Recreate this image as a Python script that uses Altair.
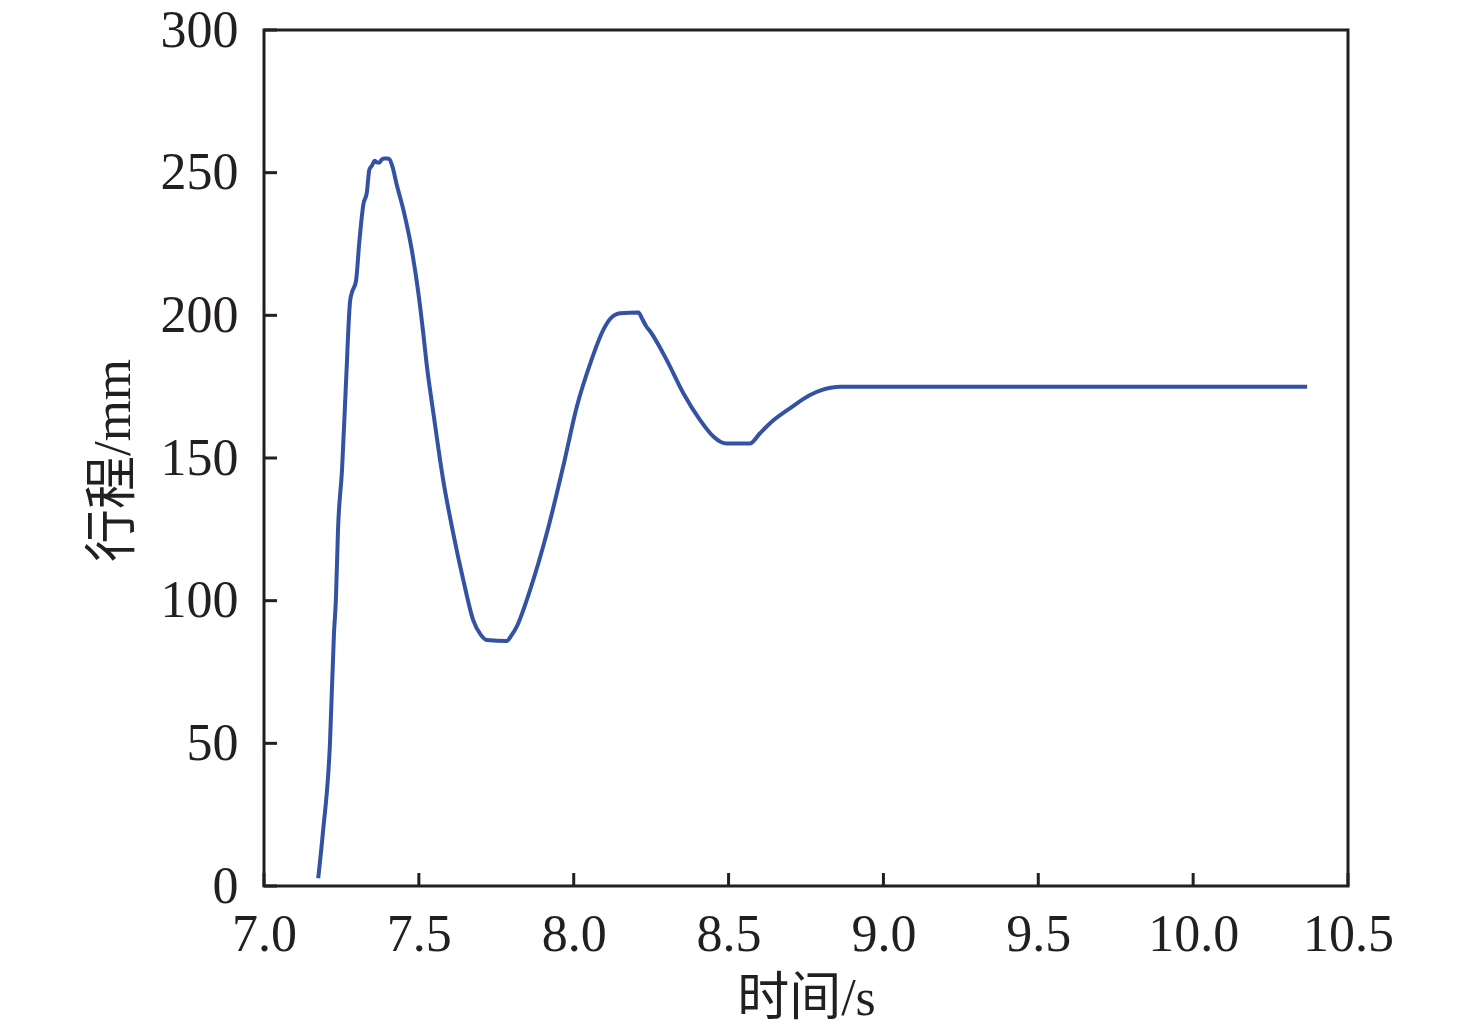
import altair as alt
import pandas as pd

# Time (s) and stroke (mm)
time_s = [7.175, 7.190, 7.213, 7.226, 7.232, 7.239, 7.252, 7.265, 7.278, 7.283,
          7.297, 7.308, 7.321, 7.332, 7.340, 7.348, 7.358, 7.365, 7.372, 7.380,
          7.387, 7.398, 7.405, 7.415, 7.428, 7.450, 7.477, 7.497, 7.514, 7.525,
          7.547, 7.579, 7.611, 7.644, 7.676, 7.700, 7.719, 7.784, 7.800, 7.816,
          7.859, 7.913, 7.966, 8.010, 8.053, 8.096, 8.120, 8.150, 8.209, 8.220,
          8.235, 8.246, 8.300, 8.354, 8.408, 8.451, 8.475, 8.494, 8.569, 8.600,
          8.634, 8.698, 8.763, 8.800, 8.830, 8.860, 9.000, 9.500, 10.000, 10.368]
stroke_mm = [2.7, 18.5, 50.0, 88.7, 100.0, 125.0, 146.0, 177.0, 205.0, 207.7,
             212.0, 226.0, 239.0, 243.0, 251.0, 252.4, 254.2, 253.6, 253.5, 254.6,
             255.0, 255.0, 254.7, 252.0, 246.0, 237.0, 223.0, 209.0, 194.0, 183.0,
             165.7, 142.0, 123.6, 107.0, 93.0, 88.0, 86.2, 85.9, 88.0, 90.9,
             103.7, 123.6, 147.0, 168.0, 183.0, 195.0, 199.0, 200.7, 201.0, 199.0,
             196.0, 194.5, 184.4, 172.7, 163.3, 157.5, 155.6, 155.1, 155.1, 158.5,
             162.2, 167.4, 172.1, 173.8, 174.6, 175.0, 175.0, 175.0, 175.0, 175.0]

x_ticks = [7.0, 7.5, 8.0, 8.5, 9.0, 9.5, 10.0, 10.5]
y_ticks = [0, 50, 100, 150, 200, 250, 300]

W, H = 1084, 856
FONT = "Liberation Serif, Noto Sans CJK SC"
INK = "#231F20"

df = pd.DataFrame({"t": time_s, "s": stroke_mm})
xt = pd.DataFrame({"v": x_ticks})
yt = pd.DataFrame({"v": y_ticks})

xscale = alt.Scale(domain=[7.0, 10.5], nice=False, zero=False)
yscale = alt.Scale(domain=[0, 300], nice=False)

line = alt.Chart(df).mark_line(color="#3352A3", strokeWidth=4,
                               interpolate="monotone").encode(
    x=alt.X("t:Q", scale=xscale,
            axis=alt.Axis(title="时间/s", values=x_ticks, format=".1f",
                          ticks=False, tickSize=0, domain=False, grid=False,
                          labelFont=FONT, labelFontSize=52, labelColor=INK,
                          labelPadding=23, labelFlush=False,
                          titleFont=FONT, titleFontSize=52, titleColor=INK,
                          titleFontWeight="normal",
                          titleX=W / 2, titleY=112, titleBaseline="middle",
                          titleAlign="center")),
    y=alt.Y("s:Q", scale=yscale,
            axis=alt.Axis(title="行程/mm", values=y_ticks, format="d",
                          ticks=False, tickSize=0, domain=False, grid=False,
                          labelFont=FONT, labelFontSize=52, labelColor=INK,
                          labelPadding=26, labelFlush=False,
                          titleFont=FONT, titleFontSize=53, titleColor=INK,
                          titleFontWeight="normal",
                          titleX=-151, titleY=H / 2 + 2, titleBaseline="middle",
                          titleAlign="center", titleAngle=270)),
)

yticks = alt.Chart(yt).mark_rule(color=INK, strokeWidth=3).encode(
    y=alt.Y("v:Q", scale=yscale),
    x=alt.value(0), x2=alt.value(13),
)
xticks = alt.Chart(xt).mark_rule(color=INK, strokeWidth=3).encode(
    x=alt.X("v:Q", scale=xscale),
    y=alt.value(H), y2=alt.value(H - 13),
)

chart = alt.layer(line, yticks, xticks).properties(
    width=W, height=H,
    autosize=alt.AutoSizeParams(type="none"),
    padding={"left": 256, "top": 22, "right": 120, "bottom": 147},
    background="white",
).configure_view(stroke=INK, strokeWidth=3)

chart.save("out.html", embed_options={"renderer": "svg", "actions": False})
